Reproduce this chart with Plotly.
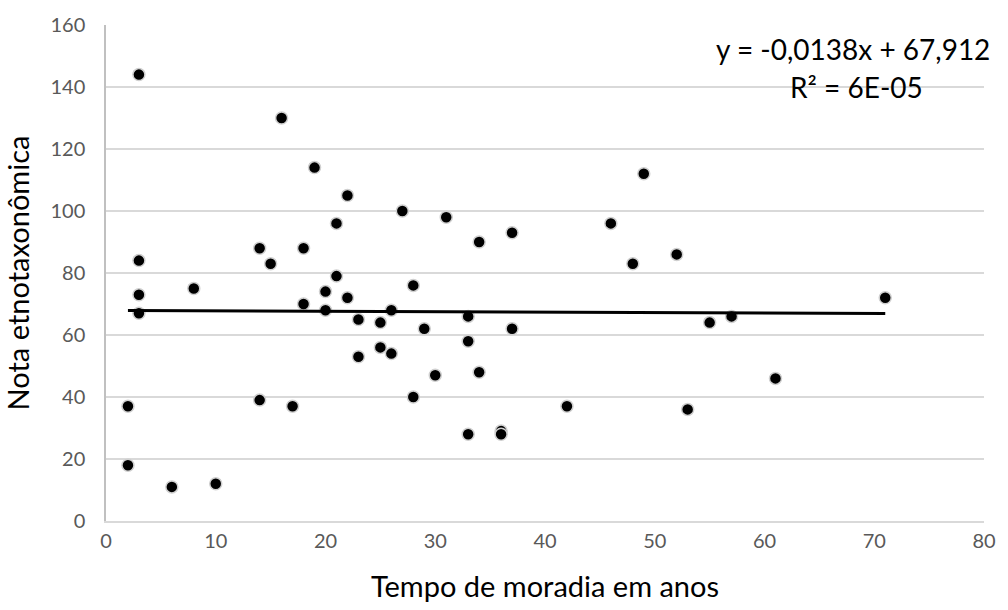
import plotly.graph_objects as go

# Data
tempo = [2, 2, 3, 3, 3, 3, 6, 8, 10, 14, 14, 15, 16, 17, 18, 18, 19, 20, 20, 21, 21,
         22, 22, 23, 23, 25, 25, 26, 26, 27, 28, 28, 29, 30, 31, 33, 33, 33, 34, 34,
         36, 36, 37, 37, 42, 46, 48, 49, 52, 53, 55, 57, 61, 71]
nota = [37, 18, 144, 84, 73, 67, 11, 75, 12, 88, 39, 83, 130, 37, 88, 70, 114, 74, 68, 96, 79,
        105, 72, 65, 53, 64, 56, 68, 54, 100, 76, 40, 62, 47, 98, 66, 58, 28, 90, 48,
        29, 28, 93, 62, 37, 96, 83, 112, 86, 36, 64, 66, 46, 72]

slope = -0.0138
intercept = 67.912
eq_text = "y = -0,0138x + 67,912"
r2_text = "R² = 6E-05"

x_line = [min(tempo), max(tempo)]
y_line = [slope * v + intercept for v in x_line]

FONT = "Lato, 'Open Sans', sans-serif"

fig = go.Figure()
fig.add_trace(go.Scatter(
    x=tempo, y=nota, mode="markers",
    marker=dict(color="black", size=12, line=dict(color="#d0d0d0", width=1.5)),
    showlegend=False, cliponaxis=False))
fig.add_trace(go.Scatter(
    x=x_line, y=y_line, mode="lines",
    line=dict(color="black", width=3), showlegend=False))

fig.update_layout(
    width=1008, height=610,
    margin=dict(l=106, r=15, t=24, b=89),
    paper_bgcolor="white", plot_bgcolor="white",
    font=dict(family=FONT, color="#595959"),
    xaxis=dict(range=[0, 80], dtick=10, showgrid=False, zeroline=False,
               showline=True, linecolor="#d9d9d9", linewidth=1.5,
               ticks="", tickfont=dict(size=20, color="#595959"),
               ticklabelstandoff=1,
               title=dict(text="Tempo de moradia em anos", font=dict(size=29, color="black"),
                          standoff=26)),
    yaxis=dict(range=[0, 160], dtick=20, showgrid=True, gridcolor="#d9d9d9", gridwidth=1.5,
               zeroline=False, showline=True, linecolor="#c0c0c0", linewidth=1.5,
               ticks="", tickfont=dict(size=20, color="#595959"),
               ticklabelstandoff=15,
               title=dict(text="Nota etnotaxonômica", font=dict(size=29, color="black"),
                          standoff=12)),
    annotations=[
        dict(xref="paper", yref="paper", x=(1000 - 106) / 887, y=(521 - 48) / 497,
             xanchor="right", yanchor="middle", text=eq_text, showarrow=False,
             borderpad=0, font=dict(size=28, color="black", family=FONT)),
        dict(xref="paper", yref="paper", x=(864 - 106) / 887, y=(521 - 86) / 497,
             xanchor="center", yanchor="middle", text=r2_text, showarrow=False,
             borderpad=0, font=dict(size=28, color="black", family=FONT)),
    ],
)

fig.write_html("out.html")
